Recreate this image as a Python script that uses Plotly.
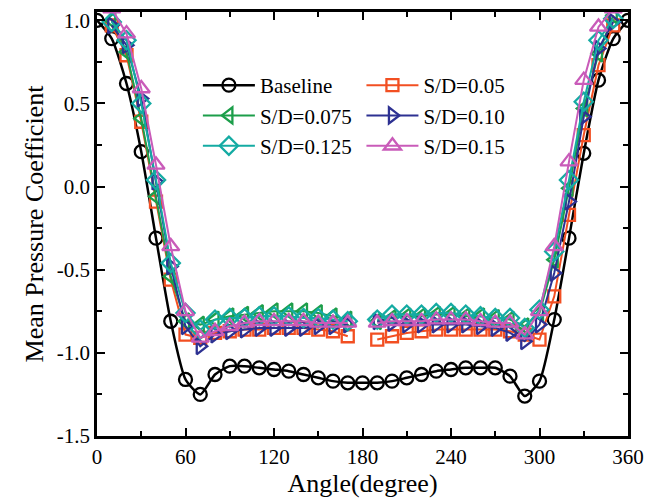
import plotly.graph_objects as go

# Angular stations (degrees)
angle_base = list(range(0, 361, 10))
angle_sd = list(range(10, 351, 10))   # 180 deg station is missing for the S/D cases

baseline = [1.00, 0.89, 0.62, 0.21, -0.31, -0.81, -1.16, -1.25, -1.13, -1.08,
            -1.08, -1.09, -1.10, -1.11, -1.13, -1.15, -1.17, -1.18, -1.18, -1.18,
            -1.17, -1.15, -1.13, -1.11, -1.10, -1.09, -1.09, -1.09, -1.14, -1.26,
            -1.17, -0.80, -0.31, 0.20, 0.64, 0.89, 1.00]

sd_005 = [0.97, 0.79, 0.39, -0.09, -0.56, -0.89, -0.91, -0.88, -0.87, -0.86,
          -0.86, -0.85, -0.85, -0.85, -0.86, -0.87, -0.90, None,
          -0.92, -0.90, -0.88, -0.87, -0.86, -0.86, -0.86, -0.86, -0.86, -0.87,
          -0.89, -0.92, -0.66, -0.17, 0.31, 0.73, 0.97]
sd_0075 = [1.00, 0.81, 0.41, -0.06, -0.54, -0.81, -0.83, -0.80, -0.78, -0.77,
           -0.76, -0.75, -0.75, -0.75, -0.76, -0.78, -0.80, None,
           -0.81, -0.79, -0.78, -0.78, -0.77, -0.77, -0.78, -0.78, -0.79, -0.80,
           -0.84, -0.76, -0.44, -0.01, 0.47, 0.80, 1.03]
sd_010 = [0.97, 0.85, 0.53, 0.03, -0.48, -0.84, -0.96, -0.89, -0.87, -0.86,
          -0.85, -0.85, -0.85, -0.85, -0.84, -0.84, -0.83, None,
          -0.81, -0.82, -0.83, -0.83, -0.83, -0.83, -0.83, -0.84, -0.85, -0.88,
          -0.93, -0.83, -0.52, -0.09, 0.42, 0.83, 0.99]
sd_0125 = [0.99, 0.88, 0.50, 0.04, -0.46, -0.76, -0.86, -0.80, -0.79, -0.79,
           -0.78, -0.78, -0.78, -0.79, -0.79, -0.80, -0.81, None,
           -0.80, -0.77, -0.77, -0.77, -0.76, -0.76, -0.77, -0.78, -0.79, -0.79,
           -0.85, -0.74, -0.39, 0.04, 0.51, 0.88, 1.01]
sd_015 = [1.07, 0.92, 0.59, 0.13, -0.36, -0.75, -0.91, -0.87, -0.84, -0.82,
          -0.81, -0.81, -0.81, -0.81, -0.82, -0.82, -0.82, None,
          -0.82, -0.81, -0.81, -0.81, -0.80, -0.80, -0.80, -0.81, -0.82, -0.82,
          -0.89, -0.75, -0.36, 0.15, 0.64, 0.96, 1.07]

x_ticks = [0, 60, 120, 180, 240, 300, 360]
x_ticktext = ["0", "60", "120", "180", "240", "300", "360"]
y_ticks = [-1.5, -1.0, -0.5, 0.0, 0.5, 1.0]
y_ticktext = ["-1.5", "-1.0", "-0.5", "0.0", "0.5", "1.0"]

FONT = "Liberation Serif, Times New Roman, serif"

fig = go.Figure()

fig.add_trace(go.Scatter(
    x=angle_base, y=baseline, name="Baseline", mode="lines+markers",
    line=dict(color="black", width=2.5, shape="spline", smoothing=0.6),
    marker=dict(symbol="circle-open", size=13, color="black", line=dict(width=2.3)),
    legend="legend"))

series = [
    ("S/D=0.05", sd_005, "#f24f22", "square-open", 12, "legend2"),
    ("S/D=0.075", sd_0075, "#1c9e4a", "triangle-left-open", 14, "legend"),
    ("S/D=0.10", sd_010, "#2d3192", "triangle-right-open", 14, "legend2"),
    ("S/D=0.125", sd_0125, "#14aba3", "diamond-open", 14, "legend"),
    ("S/D=0.15", sd_015, "#c95bb9", "triangle-up-open", 15, "legend2"),
]
for name, vals, col, sym, sz, lg in series:
    fig.add_trace(go.Scatter(
        x=angle_sd, y=vals, name=name, mode="lines+markers", connectgaps=False,
        line=dict(color=col, width=2),
        marker=dict(symbol=sym, size=sz, color=col, line=dict(width=2.3, color=col)),
        legend=lg))

legend_common = dict(font=dict(family=FONT, size=21, color="black"),
                     bgcolor="rgba(0,0,0,0)", itemwidth=52, tracegroupgap=0,
                     yanchor="top", xanchor="left", itemsizing="trace")

fig.update_layout(
    width=658, height=504,
    margin=dict(l=97, r=30, t=9, b=68),
    paper_bgcolor="white", plot_bgcolor="white",
    font=dict(family=FONT, size=21, color="black"),
    legend=dict(x=0.19, y=0.875, **legend_common),
    legend2=dict(x=0.498, y=0.875, **legend_common),
    xaxis=dict(
        range=[0, 360], tickvals=x_ticks, ticktext=x_ticktext,
        ticks="inside", ticklen=8, tickwidth=2, tickcolor="black",
        minor=dict(dtick=30, tick0=0, ticks="inside", ticklen=5, tickwidth=2, tickcolor="black"),
        showline=True, linewidth=2.5, linecolor="black", mirror="ticks",
        showgrid=False, zeroline=False,
        tickfont=dict(family=FONT, size=21),
        title=dict(text="Angle(degree)", font=dict(family=FONT, size=26), standoff=6)),
    yaxis=dict(
        range=[-1.5, 1.05], tickvals=y_ticks, ticktext=y_ticktext,
        ticks="inside", ticklen=8, tickwidth=2, tickcolor="black",
        minor=dict(dtick=0.25, tick0=0, ticks="inside", ticklen=5, tickwidth=2, tickcolor="black"),
        showline=True, linewidth=2.5, linecolor="black", mirror="ticks",
        showgrid=False, zeroline=False,
        tickfont=dict(family=FONT, size=21),
        title=dict(text="Mean Pressure Coefficient", font=dict(family=FONT, size=26), standoff=6)),
)

fig.write_html("out.html")
